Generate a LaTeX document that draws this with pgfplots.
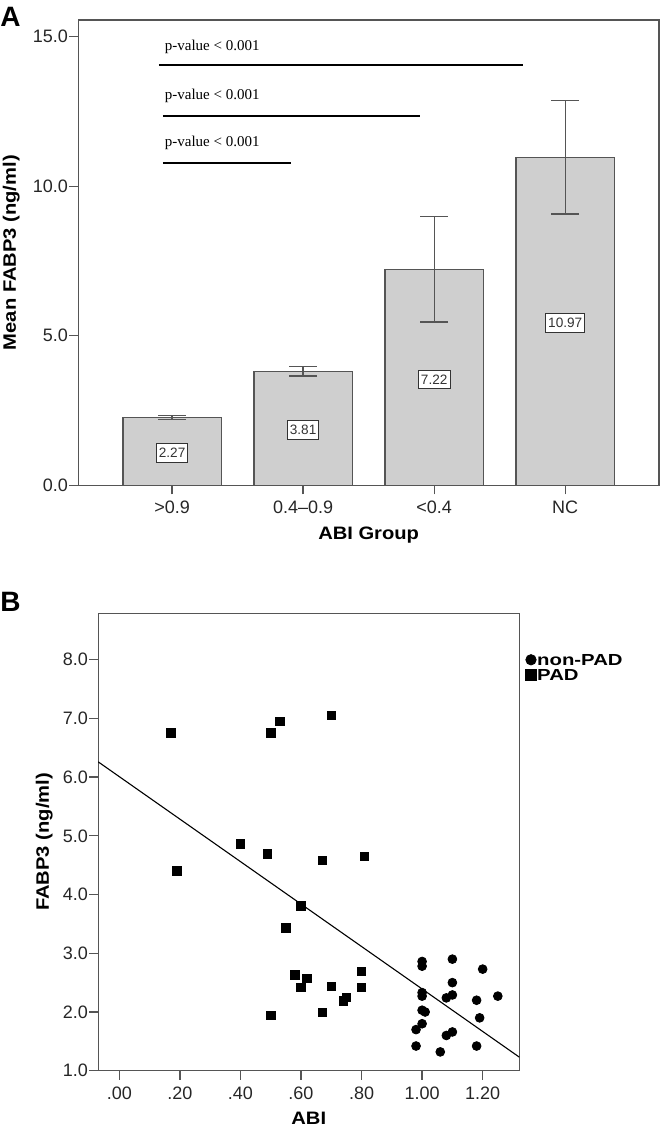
\documentclass[border=0pt]{standalone}
\usepackage{fontspec}
\setmainfont{Liberation Sans}
\newfontfamily\seriffont{Liberation Serif}
\newfontfamily\labfont[FakeStretch=1.12]{Liberation Sans}
\newfontfamily\legfont[FakeStretch=1.27]{Liberation Sans}
\usepackage{pgfplots}
\pgfplotsset{compat=1.18}
\definecolor{barfill}{RGB}{207,207,207}
\definecolor{framec}{RGB}{85,85,85}
\pgfplotsset{mylegimg/.style={legend image code/.code={%
  \draw[##1, mark size=2.6pt] plot coordinates {(2.6pt,0.1pt)};}}}

\begin{document}
\begin{tikzpicture}
\useasboundingbox (0pt,0pt) rectangle (330.5pt,567pt);
\node[anchor=base west, inner sep=0, font=\fontsize{14}{16}\selectfont\bfseries] at (0pt,553.6pt) {A};
\node[anchor=base west, inner sep=0, font=\fontsize{14}{16}\selectfont\bfseries] at (0pt,261.1pt) {B};

\begin{axis}[
  at={(39.2pt,324.35pt)}, anchor=south west, scale only axis,
  width=290.25pt, height=232.65pt,
  xmin=-0.715, xmax=3.715, ymin=0, ymax=15.56,
  xtick={0,1,2,3}, xticklabels={>0.9,0.4--0.9,<0.4,NC},
  ytick={0,5,10,15}, yticklabels={0.0,5.0,10.0,15.0},
  tick pos=left, tick align=outside, major tick length=4.5pt,
  tick style={framec, line width=0.65pt},
  axis line style={framec, line width=0.65pt},
  ticklabel style={font=\fontsize{9}{10}\selectfont, text=black!85},
  yticklabel style={inner xsep=0.5pt},
  xlabel={ABI Group}, ylabel={Mean FABP3 (ng/ml)},
  label style={font=\labfont\bfseries\fontsize{9}{11}\selectfont},
  xlabel style={at={(axis description cs:0.5,-0.1068)}, anchor=center},
  ylabel style={at={(axis description cs:-0.1158,0.5)}, anchor=center},
]
\addplot[ybar, bar width=0.75, fill=barfill, draw=framec, line width=0.65pt,
  error bars/.cd, y dir=both, y explicit,
  error bar style={framec, line width=0.65pt},
  error mark options={framec, line width=0.65pt, mark size=7pt, rotate=90}]
 coordinates {(0,2.27) +- (0,0.06) (1,3.81) +- (0,0.155) (2,7.22) +- (0,1.76) (3,10.97) +- (0,1.90)};

\addplot[draw=none, mark=none, nodes near coords, point meta=explicit symbolic,
  every node near coord/.append style={anchor=center, fill=white, draw=black!80, line width=0.5pt,
    inner xsep=1.3pt, inner ysep=2.3pt, font=\fontsize{6.8}{7}\selectfont, text=black!80}]
 coordinates {(0,1.08)[2.27] (1,1.84)[3.81] (2,3.54)[7.22] (3,5.43)[10.97]};

\addplot[black, line width=1pt] coordinates {(-0.10,14.05) (2.68,14.05)};
\addplot[black, line width=1pt] coordinates {(-0.07,12.34) (1.89,12.34)};
\addplot[black, line width=1pt] coordinates {(-0.07,10.78) (0.91,10.78)};
\node[anchor=west, inner sep=0, font=\seriffont\fontsize{7.5}{8}\selectfont] at (axis cs:-0.058,14.66) {p-value < 0.001};
\node[anchor=west, inner sep=0, font=\seriffont\fontsize{7.5}{8}\selectfont] at (axis cs:-0.058,13.02) {p-value < 0.001};
\node[anchor=west, inner sep=0, font=\seriffont\fontsize{7.5}{8}\selectfont] at (axis cs:-0.058,11.45) {p-value < 0.001};
\end{axis}

\begin{axis}[
  at={(49.1pt,31.65pt)}, anchor=south west, scale only axis,
  width=210.6pt, height=228.7pt,
  xmin=-0.0697, xmax=1.3213, ymin=1, ymax=8.79,
  xtick={0,0.2,0.4,0.6,0.8,1.0,1.2}, xticklabels={.00,.20,.40,.60,.80,1.00,1.20},
  ytick={1,2,3,4,5,6,7,8}, yticklabels={1.0,2.0,3.0,4.0,5.0,6.0,7.0,8.0},
  tick pos=left, tick align=outside, major tick length=4.5pt,
  tick style={framec, line width=0.65pt},
  axis line style={framec, line width=0.65pt},
  ticklabel style={font=\fontsize{9}{10}\selectfont, text=black!85},
  yticklabel style={inner xsep=0.5pt},
  xlabel={ABI}, ylabel={FABP3 (ng/ml)},
  label style={font=\labfont\bfseries\fontsize{9}{11}\selectfont},
  xlabel style={at={(axis description cs:0.5,-0.1034)}, anchor=center},
  ylabel style={at={(axis description cs:-0.128,0.5)}, anchor=center},
  legend style={at={(1.0152,0.913)}, anchor=north west, draw=none, fill=none,
    inner sep=0pt, outer sep=0pt, row sep=0.6pt, column sep=0.5pt,
    font=\legfont\bfseries\fontsize{8}{8}\selectfont,
    nodes={inner sep=0pt, text height=6.1pt, text depth=0.8pt},
    cells={inner sep=0pt, text height=6.1pt, text depth=0.8pt}},
  legend cell align=left,
]
\addplot[only marks, mark=*, mark size=2.2pt, black, mylegimg]
 coordinates {(1.00,2.86) (1.00,2.78) (1.10,2.90) (1.20,2.73) (1.10,2.50) (1.00,2.33) (1.00,2.27)
  (1.08,2.24) (1.10,2.29) (1.18,2.20) (1.25,2.27) (1.00,2.03) (1.01,2.00) (1.19,1.90) (1.00,1.80)
  (0.98,1.70) (1.10,1.66) (1.08,1.60) (0.98,1.42) (1.06,1.32) (1.18,1.42)};
\addlegendentry{non-PAD}
\addplot[only marks, mark=square*, mark size=2.1pt, black, mylegimg]
 coordinates {(0.17,6.75) (0.50,6.75) (0.53,6.95) (0.70,7.05) (0.40,4.86) (0.49,4.69) (0.67,4.58)
  (0.81,4.65) (0.19,4.40) (0.60,3.81) (0.55,3.43) (0.58,2.63) (0.62,2.57) (0.60,2.42) (0.70,2.44)
  (0.50,1.94) (0.67,1.99) (0.74,2.19) (0.75,2.25) (0.80,2.69) (0.80,2.42)};
\addlegendentry{PAD}
\addplot[black, line width=0.55pt, forget plot] coordinates {(-0.0697,6.26) (1.3213,1.23)};
\end{axis}
\end{tikzpicture}
\end{document}
